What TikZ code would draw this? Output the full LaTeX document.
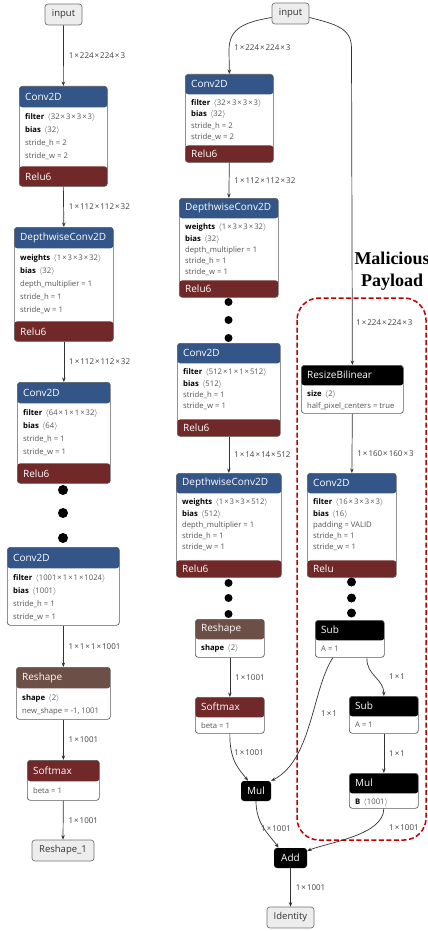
\documentclass[tikz,border=0pt]{standalone}
\usepackage{fontspec}
\setmainfont{Open Sans}
\newfontfamily\payloadfont{Liberation Serif}
\usetikzlibrary{arrows.meta}

\definecolor{layercol}{HTML}{335588}
\definecolor{actcol}{HTML}{702828}
\definecolor{shapecol}{HTML}{6C4F47}
\definecolor{txtgrey}{HTML}{555555}
\definecolor{edgecol}{HTML}{333333}
\definecolor{payred}{HTML}{C00000}

% sizes of the layer boxes, changed per column
\newcommand{\hdrh}{21pt}
\newcommand{\acth}{20pt}
\newcommand{\rowgap}{13pt}
\newcommand{\bodydrop}{6.5pt}

\newcommand{\dimx}{\kern1pt×\kern1pt}
\newcommand{\shp}[1]{\textcolor{txtgrey}{\,$\langle$#1$\rangle$}}
\newcommand{\inp}[1]{\textcolor{black}{\bfseries #1}}

\tikzset{
  opframe/.style={draw=black!65, fill=white, rounded corners=3pt, line width=0.7pt, inner sep=0pt},
  optitle/.style={anchor=west, text=white, inner sep=0pt, font=\fontsize{10}{12}\selectfont},
  opbody/.style={anchor=north west, align=left, inner sep=0pt, text=txtgrey, font=\fontsize{7.7}{\rowgap}\selectfont},
  smallop/.style={fill=black, text=white, rounded corners=3pt, inner sep=0pt, minimum height=20pt, font=\fontsize{10}{12}\selectfont},
  ionode/.style={draw=black!55, fill=black!7, rounded corners=3pt, line width=0.7pt, text=black!80, minimum height=21pt, inner sep=0pt, font=\fontsize{9.5}{11}\selectfont},
  link/.style={draw=edgecol, line width=0.7pt, -{Stealth[length=4.5pt,width=3.5pt]}},
  lbl/.style={font=\fontsize{8}{9}\selectfont, text=black!75, inner sep=0pt, anchor=west},
  payload/.style={draw=payred, line width=1.5pt, dash pattern=on 5pt off 2.5pt, rounded corners=22pt},
  payloadlbl/.style={font={\payloadfont\bfseries\fontsize{18}{22}\selectfont}, align=center, inner sep=0pt}
}

% name, top left, width, height, header colour, title, rows, activation
\newcommand{\oplayer}[8]{%
  \node[opframe, anchor=north west, minimum width=#3pt, minimum height=#4pt,
    path picture={\fill[#5] (path picture bounding box.north west) rectangle ([yshift=-\hdrh]path picture bounding box.north east);
      \if\relax\detokenize{#8}\relax\else
        \fill[actcol] ([yshift=\acth]path picture bounding box.south west) rectangle (path picture bounding box.south east);
      \fi}]
    (#1) at (#2) {};
  \node[optitle] at ([xshift=6pt,yshift=-0.5*\hdrh]#1.north west) {#6};
  \node[opbody] at ([xshift=6pt,yshift=-\hdrh-\bodydrop]#1.north west) {#7};
  \if\relax\detokenize{#8}\relax\else
    \node[optitle] at ([xshift=6pt,yshift=0.5*\acth]#1.south west) {#8};
  \fi}

\begin{document}
\begin{tikzpicture}[x=1pt, y=-1pt]
\useasboundingbox (0,0) rectangle (428,931);

% payload region
\draw[payload] (297,298) rectangle (426,840);
\node[payloadlbl] (paylbl) at (392,271) {Malicious\\Payload};

% original model
\node[ionode, minimum width=37pt] (inL) at (63.5,14.5) {input};
\oplayer{convA}{19,86}{88}{100}{layercol}{Conv2D}{\inp{filter} \shp{32\dimx3\dimx3\dimx3}\\\inp{bias} \shp{32}\\stride\_h = 2\\stride\_w = 2}{Relu6}
\oplayer{dwA}{14,227}{99}{114}{layercol}{DepthwiseConv2D}{\inp{weights} \shp{1\dimx3\dimx3\dimx32}\\\inp{bias} \shp{32}\\depth\_multiplier = 1\\stride\_h = 1\\stride\_w = 1}{Relu6}
\oplayer{convB}{17,382}{93}{101}{layercol}{Conv2D}{\inp{filter} \shp{64\dimx1\dimx1\dimx32}\\\inp{bias} \shp{64}\\stride\_h = 1\\stride\_w = 1}{Relu6}
\oplayer{convC}{7,547}{112}{78}{layercol}{Conv2D}{\inp{filter} \shp{1001\dimx1\dimx1\dimx1024}\\\inp{bias} \shp{1001}\\stride\_h = 1\\stride\_w = 1}{}
\oplayer{reshA}{16,667}{94}{52}{shapecol}{Reshape}{\inp{shape} \shp{2}\\new\_shape = -1, 1001}{}
\oplayer{softA}{27,760}{72}{40}{actcol}{Softmax}{beta = 1}{}
\node[ionode, minimum width=62pt] (outL) at (63,850.5) {Reshape\_1};
\foreach \y in {490,513,538} \fill (63,\y) circle (5pt);

\draw[link] (inL.south) -- node[lbl, xshift=5pt] {1\dimx224\dimx224\dimx3} (convA.north);
\draw[link] (convA.south) -- node[lbl, xshift=5pt] {1\dimx112\dimx112\dimx32} (dwA.north);
\draw[link] (dwA.south) -- node[lbl, xshift=5pt] {1\dimx112\dimx112\dimx32} (convB.north);
\draw[link] (convC.south) -- node[lbl, xshift=5pt] {1\dimx1\dimx1\dimx1001} (reshA.north);
\draw[link] (reshA.south) -- node[lbl, xshift=5pt] {1\dimx1001} (softA.north);
\draw[link] (softA.south) -- node[lbl, xshift=5pt] {1\dimx1001} (outL.north);

% patched model
\renewcommand{\hdrh}{20pt}
\renewcommand{\acth}{17pt}
\renewcommand{\rowgap}{11.3pt}
\renewcommand{\bodydrop}{5.5pt}
\node[ionode, minimum width=37pt] (inM) at (290.5,13.5) {input};
\oplayer{convM1}{185,74}{88}{88}{layercol}{Conv2D}{\inp{filter} \shp{32\dimx3\dimx3\dimx3}\\\inp{bias} \shp{32}\\stride\_h = 2\\stride\_w = 2}{Relu6}
\oplayer{dwM1}{179,198}{99}{99}{layercol}{DepthwiseConv2D}{\inp{weights} \shp{1\dimx3\dimx3\dimx32}\\\inp{bias} \shp{32}\\depth\_multiplier = 1\\stride\_h = 1\\stride\_w = 1}{Relu6}
\oplayer{convM2}{177,343}{103}{93}{layercol}{Conv2D}{\inp{filter} \shp{512\dimx1\dimx1\dimx512}\\\inp{bias} \shp{512}\\stride\_h = 1\\stride\_w = 1}{Relu6}
\oplayer{dwM2}{176,473}{105}{104}{layercol}{DepthwiseConv2D}{\inp{weights} \shp{1\dimx3\dimx3\dimx512}\\\inp{bias} \shp{512}\\depth\_multiplier = 1\\stride\_h = 1\\stride\_w = 1}{Relu6}
\oplayer{reshM}{195,619}{69}{38}{shapecol}{Reshape}{\inp{shape} \shp{2}}{}
\oplayer{softM}{195,697}{69}{36}{actcol}{Softmax}{beta = 1}{}
\node[smallop, minimum width=30pt] (mulM) at (256,791) {Mul};
\node[smallop, minimum width=33pt] (addM) at (290.5,858) {Add};
\node[ionode, minimum width=47pt] (outM) at (290.5,917.5) {Identity};
\foreach \y in {302,320,338} \fill (228.5,\y) circle (4pt);
\foreach \y in {583,598,614} \fill (228.5,\y) circle (4pt);

% payload branch
\oplayer{resize}{301,365}{102}{48}{black}{ResizeBilinear}{\inp{size} \shp{2}\\half\_pixel\_centers = true}{}
\oplayer{convR}{307,473}{89}{104}{layercol}{Conv2D}{\inp{filter} \shp{16\dimx3\dimx3\dimx3}\\\inp{bias} \shp{16}\\padding = VALID\\stride\_h = 1\\stride\_w = 1}{Relu}
\oplayer{subR1}{315,620}{69}{37}{black}{Sub}{A = 1}{}
\oplayer{subR2}{349,696}{69}{37}{black}{Sub}{A = 1}{}
\oplayer{mulR}{349,773}{69}{35}{black}{Mul}{\inp{B} \shp{1001}}{}
\foreach \y in {582,598,613} \fill (351.5,\y) circle (4.5pt);

\draw[link] ([yshift=-4pt]inM.west) .. controls (245,22) and (229,28) .. (229,50) -- (convM1.north);
\node[lbl] (lblM0) at (234,48) {1\dimx224\dimx224\dimx3};
\draw[link] (convM1.south) -- node[lbl, xshift=5pt] {1\dimx112\dimx112\dimx32} (dwM1.north);
\draw[link] (convM2.south) -- node[lbl, xshift=5pt] {1\dimx14\dimx14\dimx512} (dwM2.north);
\draw[link] (reshM.south) -- node[lbl, xshift=5pt] {1\dimx1001} (softM.north);
\draw[link] (softM.south) .. controls (229.5,762) and (240,770) .. ([xshift=-8pt]mulM.north);
\node[lbl] (lblM1) at (234,753) {1\dimx1001};
\draw[link] (mulM.south) .. controls (256,825) and (270,835) .. ([xshift=-12pt]addM.north);
\node[lbl] (lblM2) at (261,829) {1\dimx1001};
\draw[link] (addM.south) -- node[lbl, xshift=5pt] {1\dimx1001} (outM.north);

\draw[link] ([yshift=-4pt]inM.east) .. controls (335,24) and (351.5,28) .. (351.5,48) -- (resize.north);
\node[lbl] (lblR0) at (356,323) {1\dimx224\dimx224\dimx3};
\draw[link] (resize.south) -- node[lbl, xshift=5pt, pos=0.68] {1\dimx160\dimx160\dimx3} (convR.north);
\draw[link] ([xshift=17pt]subR1.south) .. controls (366.5,676) and (383.5,678) .. (subR2.north);
\node[lbl] (lblR1) at (389,677) {1\dimx1};
\draw[link] (subR2.south) -- node[lbl, xshift=5pt] {1\dimx1} (mulR.north);
\draw[link] ([xshift=-17pt]subR1.south) .. controls (312,690) and (312,760) .. (mulM.north east);
\node[lbl] (lblR2) at (321,714) {1\dimx1};
\draw[link] (mulR.south) .. controls (383.5,835) and (330,842) .. ([yshift=-3pt]addM.north east);
\node[lbl] (lblR3) at (389,828) {1\dimx1001};
\end{tikzpicture}
\end{document}
